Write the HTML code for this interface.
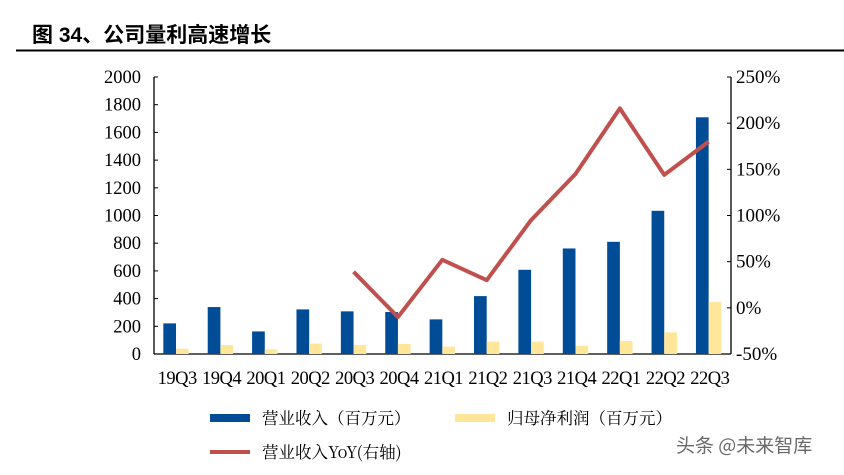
<!DOCTYPE html>
<html><head><meta charset="utf-8"><style>
body{margin:0;width:844px;height:470px;background:#fff;overflow:hidden;font-family:"Liberation Serif","Noto Serif CJK SC",serif}
</style></head><body>
<svg width="844" height="470" xmlns="http://www.w3.org/2000/svg">
<text x="32" y="42" font-family="Liberation Sans,'Noto Sans CJK SC',sans-serif" font-size="21" font-weight="bold" fill="#000">图 34、公司量利高速增长</text>
<rect x="16" y="49.5" width="828" height="2" fill="#000"/>
<g id="plot"></g>
<g font-family="'Noto Serif CJK SC',serif" font-size="16.5">
<rect x="210" y="414" width="40" height="8" fill="#004C97"/>
<text x="262" y="424">营业收入（百万元）</text>
<rect x="455" y="414" width="40" height="8" fill="#FFE699"/>
<text x="507" y="424">归母净利润（百万元）</text>
<line x1="210" y1="452" x2="250" y2="452" stroke="#C0504D" stroke-width="4"/>
<text x="262" y="458">营业收入YoY(右轴)</text>
</g>
<text x="676" y="452" font-family="'Noto Sans CJK SC',sans-serif" font-size="19" fill="#444" opacity="0.8">头条 @未来智库</text>
</svg>
<script>
const categories=["19Q3","19Q4","20Q1","20Q2","20Q3","20Q4","21Q1","21Q2","21Q3","21Q4","22Q1","22Q2","22Q3"];
const revenue=[221,339,163,322,308,303,250,418,608,762,810,1034,1709];
const profit=[38,65,34,75,65,72,53,89,89,60,94,156,375];
const yoy=[null,null,null,null,39,-10,52,30,95,145,216,144,180];
const leftTicks=[0,200,400,600,800,1000,1200,1400,1600,1800,2000];
const rightTicks=[-50,0,50,100,150,200,250];
const NS="http://www.w3.org/2000/svg";
const g=document.getElementById('plot');
const L=154,R=731,T=77,B=354;
const band=(R-L)/categories.length;
const yL=v=>B-(v/2000)*(B-T);
const yR=v=>B-((v+50)/300)*(B-T);
function mk(t,a){const e=document.createElementNS(NS,t);for(const k in a)e.setAttribute(k,a[k]);g.appendChild(e);return e;}
let e;
e=mk('line',{x1:L,y1:T,x2:L,y2:B,stroke:'#000','stroke-width':1.3});


e=mk('line',{x1:R,y1:T,x2:R,y2:B,stroke:'#000','stroke-width':1.3});


e=mk('line',{x1:L,y1:B,x2:R,y2:B,stroke:'#000','stroke-width':1.3});


leftTicks.forEach(v=>{const y=yL(v);
mk('line',{x1:L,y1:y,x2:L+4,y2:y,stroke:'#000'});
e=mk('text',{x:L-13,y:y+6,'text-anchor':'end','font-size':18.5});e.textContent=v;

});
rightTicks.forEach(v=>{const y=yR(v);
mk('line',{x1:R-4,y1:y,x2:R,y2:y,stroke:'#000'});
e=mk('text',{x:R+5,y:y+6,'font-size':19});e.textContent=v+'%';

});
const bw=band*0.286,off=band*0.21;
categories.forEach((c,i)=>{const x0=L+i*band;
e=mk('rect',{x:x0+off,y:yL(revenue[i]),width:bw,height:B-yL(revenue[i]),fill:'#004C97'});


e=mk('rect',{x:x0+off+bw,y:yL(profit[i]),width:bw,height:B-yL(profit[i]),fill:'#FFE699'});


e=mk('text',{x:x0+band/2+1,y:384,'text-anchor':'middle','font-size':18.5,'letter-spacing':-0.5});e.textContent=c;

});
const pts=[];yoy.forEach((v,i)=>{if(v!==null)pts.push((L+i*band+off+bw)+','+yR(v));});
e=mk('polyline',{points:pts.join(' '),fill:'none',stroke:'#C0504D','stroke-width':4,'stroke-linejoin':'round'});


</script>
</body></html>
